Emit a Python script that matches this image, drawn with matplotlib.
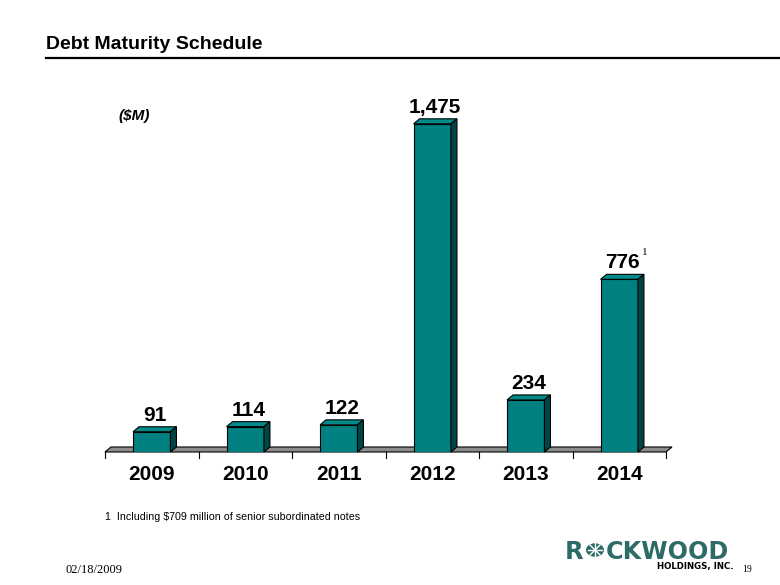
import matplotlib
matplotlib.use("Agg")
import matplotlib.pyplot as plt
from matplotlib.patches import Polygon, Circle
from matplotlib.lines import Line2D
import numpy as np

plt.rcParams['font.family'] = ['Liberation Sans', 'DejaVu Sans']

# data
years = ['2009', '2010', '2011', '2012', '2013', '2014']
maturities = [91, 114, 122, 1475, 234, 776]
value_labels = ['91', '114', '122', '1,475', '234', '776']
footnote_year = '2014'

W, H = 780, 585
teal = '#008080'
teal_top = '#008a8a'
teal_side = '#004545'

fig = plt.figure(figsize=(W / 100, H / 100), dpi=100)


def fx(px):
    return px / W


def fy(py):
    return 1 - py / H


# plot area: baseline at y=452px, 0.2224 px per $M
ax = fig.add_axes([fx(105), fy(452), 561 / W, 356 / H])
ax.set_xlim(0, len(years))
ax.set_ylim(0, 1600)
ax.axis('off')

px_per_cat = 561 / len(years)
px_per_unit = 356 / 1600
dx = 6 / px_per_cat
dy = 5 / px_per_unit
bw = 0.4

# floor
floor = Polygon([(0, 0), (len(years), 0), (len(years) + dx, dy), (dx, dy)],
                closed=True, facecolor='#8c8c8c', edgecolor='black', lw=0.8,
                clip_on=False, zorder=1)
ax.add_patch(floor)
for i in range(len(years) + 1):
    ax.plot([i, i], [0, -6 / px_per_unit], color='black', lw=0.8,
            clip_on=False, zorder=1)

for i, (yr, v, lab) in enumerate(zip(years, maturities, value_labels)):
    x0 = i + 0.5 - bw / 2
    x1 = x0 + bw
    ax.bar(i + 0.5, v, width=bw, color=teal, edgecolor='black', lw=0.8, zorder=3)
    top = Polygon([(x0, v), (x1, v), (x1 + dx, v + dy), (x0 + dx, v + dy)],
                  closed=True, facecolor=teal_top, edgecolor='black', lw=0.8,
                  zorder=3, clip_on=False)
    side = Polygon([(x1, 0), (x1 + dx, dy), (x1 + dx, v + dy), (x1, v)],
                   closed=True, facecolor=teal_side, edgecolor='black', lw=0.8,
                   zorder=3, clip_on=False)
    ax.add_patch(top)
    ax.add_patch(side)
    ax.annotate(lab, (i + 0.5 + dx / 2, v), xytext=(0, 11),
                textcoords='offset pixels', ha='center', va='baseline',
                fontsize=15, fontweight='bold', annotation_clip=False)
    ax.annotate(yr, (i + 0.5, 0), xytext=(0, -23), textcoords='offset pixels',
                ha='center', va='center', fontsize=15, fontweight='bold',
                annotation_clip=False)
    if yr == footnote_year:
        ax.annotate('1', (i + 0.5, v), xytext=(26, 27),
                    textcoords='offset pixels', ha='center', va='center',
                    fontsize=8, family='Liberation Serif',
                    annotation_clip=False)

# title and rule
fig.text(fx(46), fy(49), 'Debt Maturity Schedule', fontsize=14,
         fontweight='bold', ha='left', va='baseline')
fig.add_artist(Line2D([fx(46), 1], [fy(58), fy(58)], color='black', lw=1.6))

fig.text(fx(118), fy(116), '($M)', fontsize=11, fontweight='bold',
         fontstyle='italic', ha='left', va='center')

fig.text(fx(105), fy(517), '1  Including $709 million of senior subordinated notes',
         fontsize=7.7, ha='left', va='center')
fig.text(fx(65), fy(570), '02/18/2009', fontsize=9,
         family='Liberation Serif', ha='left', va='center')
fig.text(fx(742), fy(569), '19', fontsize=7, family='Liberation Serif',
         ha='left', va='center')

# logo
logo = '#2d6b67'
fig.text(fx(565), fy(559), 'R', fontsize=17.5, fontweight='bold', color=logo,
         family='DejaVu Sans', ha='left', va='baseline')
cx, cy, r = 595, 550, 9
fig.add_artist(Circle((fx(cx), fy(cy)), r / W, transform=fig.transFigure,
                      facecolor=logo, edgecolor='none'))
for a in np.arange(0, np.pi, np.pi / 4):
    fig.add_artist(Line2D([fx(cx - 7 * np.cos(a)), fx(cx + 7 * np.cos(a))],
                          [fy(cy - 7 * np.sin(a)), fy(cy + 7 * np.sin(a))],
                          color='white', lw=1.0))
fig.text(fx(606), fy(559), 'CKWOOD', fontsize=17.2, fontweight='bold', color=logo,
         family='DejaVu Sans', ha='left', va='baseline')
fig.text(fx(657), fy(567), 'HOLDINGS, INC.', fontsize=6.2, fontweight='bold',
         family='DejaVu Sans', ha='left', va='center')

fig.savefig('out.png', dpi=100)
